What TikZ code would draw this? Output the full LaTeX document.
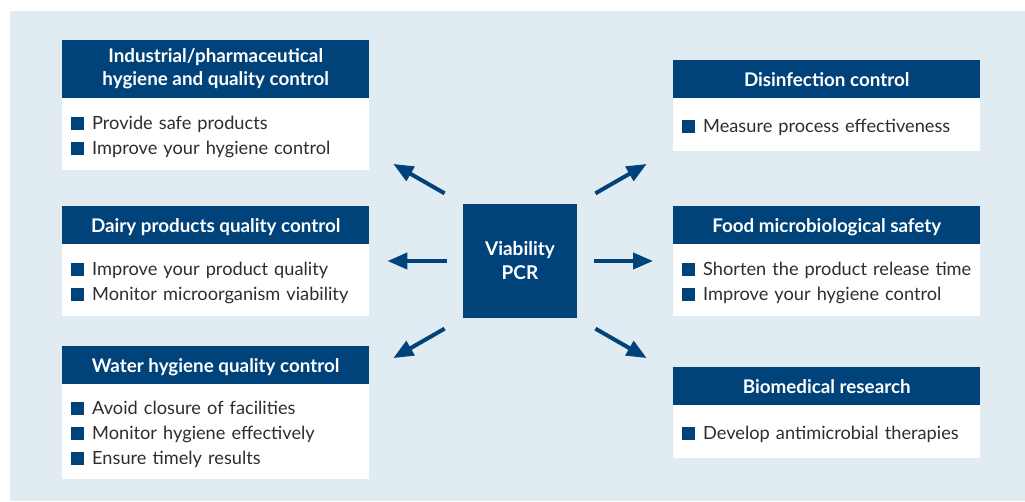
\documentclass[tikz,border=0pt]{standalone}
\usepackage{fontspec}
\setmainfont{Lato}
\usetikzlibrary{arrows.meta,calc}
\definecolor{navy}{HTML}{00427A}
\definecolor{panel}{HTML}{E0EBF2}
\definecolor{ink}{HTML}{2E2E2E}
% one list item: square bullet plus text kept on a single line
% (the strut evens out the height of the first line)
\newcommand{\itm}[1]{\mbox{\rule{0pt}{19pt}\textcolor{navy}{\rule{13pt}{13pt}}\hspace{8pt}#1}}
\tikzset{
  headbase/.style={fill=navy, text=white, font=\bfseries\fontsize{18.8}{23}\selectfont,
    minimum width=307pt, minimum height=38pt, inner sep=0pt, align=center, anchor=north west},
  head/.style={headbase, text height=15pt, text depth=0pt},
  body/.style={fill=white, text=ink, font=\fontsize{18.2}{25}\selectfont,
    text width=289pt, inner xsep=9pt, inner ysep=0pt, align=left, anchor=north west},
  hub/.style={fill=navy, text=white, font=\bfseries\fontsize{19}{24}\selectfont,
    minimum size=114pt, inner sep=0pt, align=center},
  arr/.style={navy, line width=4pt, -{Triangle[length=20pt,width=16pt]}},
}
\begin{document}
\begin{tikzpicture}[x=1pt,y=-1pt]
  \useasboundingbox (0,0) rectangle (1025,501);
  \fill[panel] (10,11) rectangle (1025,501);

  % left column
  \node[headbase, minimum height=58pt] (indh) at (62,40) {Industrial/pharmaceutical\\hygiene and quality control};
  \node[body, minimum height=72pt] (indb) at (62,98) {\itm{Provide safe products}\\\itm{Improve your hygiene control}};

  \node[head] (dairyh) at (62,206) {Dairy products quality control};
  \node[body, minimum height=72pt] (dairyb) at (62,244) {\itm{Improve your product quality}\\\itm{Monitor microorganism viability}};

  \node[head] (waterh) at (62,346) {Water hygiene quality control};
  \node[body, minimum height=95pt] (waterb) at (62,384) {\itm{Avoid closure of facilities}\\\itm{Monitor hygiene effectively}\\\itm{Ensure timely results}};

  % right column
  \node[head] (dish) at (673,60) {Disinfection control};
  \node[body, minimum height=53pt] (disb) at (673,98) {\itm{Measure process effectiveness}};

  \node[head] (foodh) at (673,206) {Food microbiological safety};
  \node[body, minimum height=72pt] (foodb) at (673,244) {\itm{Shorten the product release time}\\\itm{Improve your hygiene control}};

  \node[head] (bioh) at (673,367) {Biomedical research};
  \node[body, minimum height=53pt] (biob) at (673,405) {\itm{Develop antimicrobial therapies}};

  % hub
  \node[hub] (pcr) at (520,261) {Viability\\PCR};

  % arrow targets on the diagonals
  \coordinate (ul) at (369,150);
  \coordinate (dl) at (369,372);
  \coordinate (ur) at (671,150);
  \coordinate (dr) at (671,372);

  \draw[arr, shorten <=21pt, shorten >=28pt] (pcr.north west) -- (ul);
  \draw[arr, shorten <=16pt, shorten >=18pt] (pcr.west) -- (pcr.west -| dairyb.east);
  \draw[arr, shorten <=21pt, shorten >=28pt] (pcr.south west) -- (dl);
  \draw[arr, shorten <=21pt, shorten >=28pt] (pcr.north east) -- (ur);
  \draw[arr, shorten <=17pt, shorten >=20pt] (pcr.east) -- (pcr.east -| foodb.west);
  \draw[arr, shorten <=21pt, shorten >=28pt] (pcr.south east) -- (dr);
\end{tikzpicture}
\end{document}
